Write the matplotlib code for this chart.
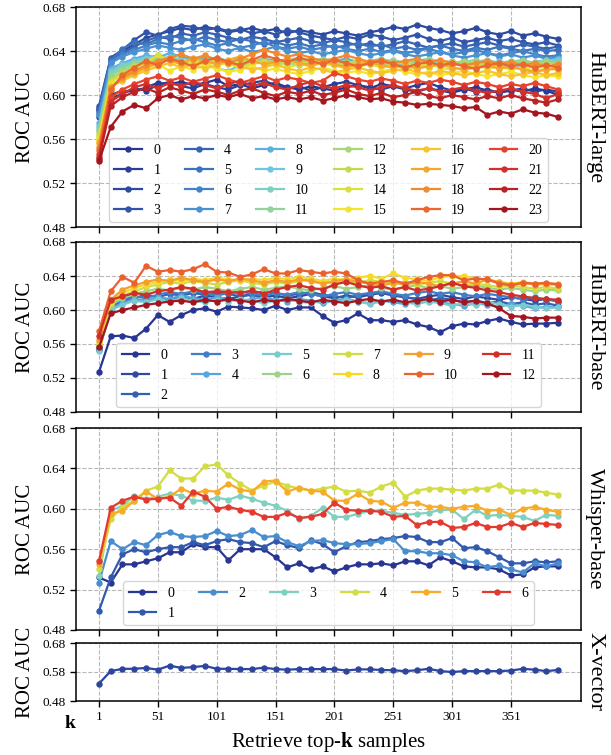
import numpy as np
import matplotlib
matplotlib.use("Agg")
import matplotlib.pyplot as plt
from matplotlib.colors import LinearSegmentedColormap

plt.rcParams['font.family'] = 'serif'
plt.rcParams['font.serif'] = ['Liberation Serif', 'DejaVu Serif']
plt.rcParams['mathtext.fontset'] = 'custom'
plt.rcParams['mathtext.rm'] = 'Liberation Serif'
plt.rcParams['mathtext.bf'] = 'Liberation Serif:bold'

# retrieve top-k, every 10 samples
k_values = np.arange(1, 392, 10)
xticks = [1, 51, 101, 151, 201, 251, 301, 351]

# HuBERT-large, layers 0..23
hubert_large = [
    [0.586, 0.600, 0.604, 0.603, 0.607, 0.611, 0.610, 0.612, 0.609, 0.611, 0.614, 0.608, 0.610, 0.606, 0.609, 0.611, 0.607, 0.605, 0.608, 0.606,
     0.604, 0.607, 0.609, 0.606, 0.610, 0.608, 0.605, 0.603, 0.606, 0.604, 0.602, 0.605, 0.607, 0.604, 0.602, 0.605, 0.603, 0.606, 0.604, 0.600],
    [0.580, 0.597, 0.601, 0.606, 0.604, 0.609, 0.612, 0.608, 0.606, 0.610, 0.607, 0.605, 0.609, 0.611, 0.613, 0.609, 0.606, 0.608, 0.604, 0.607,
     0.610, 0.612, 0.609, 0.607, 0.605, 0.608, 0.606, 0.609, 0.611, 0.607, 0.604, 0.606, 0.603, 0.605, 0.602, 0.604, 0.606, 0.603, 0.605, 0.603],
    [0.588, 0.632, 0.640, 0.646, 0.652, 0.655, 0.658, 0.661, 0.659, 0.662, 0.660, 0.657, 0.659, 0.661, 0.658, 0.660, 0.656, 0.659, 0.657, 0.655,
     0.658, 0.656, 0.654, 0.657, 0.659, 0.662, 0.660, 0.664, 0.661, 0.659, 0.656, 0.658, 0.661, 0.657, 0.655, 0.658, 0.654, 0.656, 0.653, 0.651],
    [0.590, 0.634, 0.641, 0.650, 0.657, 0.654, 0.660, 0.663, 0.662, 0.659, 0.661, 0.658, 0.660, 0.656, 0.658, 0.655, 0.659, 0.657, 0.654, 0.652,
     0.650, 0.653, 0.651, 0.655, 0.653, 0.650, 0.652, 0.655, 0.651, 0.649, 0.652, 0.648, 0.650, 0.652, 0.649, 0.651, 0.648, 0.646, 0.648, 0.645],
    [0.587, 0.633, 0.638, 0.644, 0.649, 0.653, 0.651, 0.656, 0.654, 0.657, 0.655, 0.652, 0.650, 0.653, 0.651, 0.648, 0.650, 0.652, 0.649, 0.647,
     0.650, 0.648, 0.645, 0.647, 0.644, 0.646, 0.649, 0.646, 0.643, 0.645, 0.647, 0.644, 0.646, 0.648, 0.645, 0.643, 0.646, 0.644, 0.642, 0.644],
    [0.585, 0.631, 0.642, 0.648, 0.646, 0.651, 0.654, 0.652, 0.649, 0.653, 0.650, 0.648, 0.651, 0.649, 0.646, 0.648, 0.645, 0.647, 0.644, 0.646,
     0.643, 0.645, 0.647, 0.644, 0.646, 0.642, 0.644, 0.641, 0.643, 0.645, 0.642, 0.640, 0.643, 0.641, 0.644, 0.642, 0.640, 0.642, 0.640, 0.641],
    [0.583, 0.630, 0.637, 0.641, 0.645, 0.648, 0.646, 0.649, 0.651, 0.648, 0.645, 0.647, 0.643, 0.645, 0.648, 0.644, 0.642, 0.644, 0.641, 0.643,
     0.645, 0.642, 0.640, 0.642, 0.639, 0.641, 0.638, 0.640, 0.642, 0.639, 0.637, 0.639, 0.641, 0.638, 0.636, 0.638, 0.640, 0.637, 0.635, 0.636],
    [0.582, 0.629, 0.635, 0.639, 0.642, 0.645, 0.643, 0.641, 0.644, 0.646, 0.642, 0.640, 0.643, 0.639, 0.641, 0.644, 0.640, 0.638, 0.640, 0.637,
     0.639, 0.641, 0.638, 0.636, 0.638, 0.640, 0.637, 0.635, 0.637, 0.639, 0.636, 0.634, 0.636, 0.638, 0.635, 0.637, 0.634, 0.636, 0.633, 0.634],
    [0.575, 0.624, 0.629, 0.633, 0.636, 0.634, 0.638, 0.635, 0.632, 0.634, 0.631, 0.629, 0.625, 0.630, 0.633, 0.631, 0.629, 0.632, 0.630, 0.628,
     0.631, 0.633, 0.630, 0.628, 0.630, 0.627, 0.629, 0.631, 0.628, 0.626, 0.628, 0.630, 0.627, 0.629, 0.626, 0.628, 0.630, 0.627, 0.629, 0.632],
    [0.572, 0.622, 0.628, 0.631, 0.634, 0.636, 0.633, 0.630, 0.633, 0.628, 0.624, 0.622, 0.627, 0.631, 0.629, 0.632, 0.630, 0.627, 0.629, 0.631,
     0.628, 0.626, 0.629, 0.631, 0.628, 0.630, 0.627, 0.625, 0.628, 0.630, 0.627, 0.629, 0.626, 0.628, 0.631, 0.628, 0.626, 0.629, 0.631, 0.633],
    [0.570, 0.620, 0.626, 0.630, 0.633, 0.631, 0.635, 0.632, 0.629, 0.632, 0.634, 0.631, 0.628, 0.630, 0.632, 0.629, 0.631, 0.634, 0.631, 0.629,
     0.632, 0.630, 0.628, 0.631, 0.633, 0.630, 0.628, 0.630, 0.632, 0.629, 0.631, 0.628, 0.630, 0.632, 0.629, 0.631, 0.628, 0.630, 0.632, 0.630],
    [0.568, 0.618, 0.624, 0.629, 0.631, 0.634, 0.632, 0.630, 0.633, 0.631, 0.628, 0.630, 0.633, 0.631, 0.629, 0.632, 0.630, 0.628, 0.631, 0.633,
     0.631, 0.629, 0.631, 0.628, 0.630, 0.632, 0.629, 0.631, 0.633, 0.630, 0.628, 0.630, 0.632, 0.629, 0.627, 0.630, 0.632, 0.629, 0.631, 0.629],
    [0.566, 0.615, 0.622, 0.627, 0.630, 0.633, 0.631, 0.628, 0.631, 0.629, 0.632, 0.630, 0.627, 0.629, 0.632, 0.630, 0.628, 0.630, 0.633, 0.631,
     0.628, 0.630, 0.627, 0.629, 0.631, 0.628, 0.630, 0.632, 0.629, 0.627, 0.629, 0.631, 0.628, 0.630, 0.627, 0.629, 0.631, 0.628, 0.630, 0.628],
    [0.564, 0.613, 0.620, 0.626, 0.629, 0.631, 0.634, 0.630, 0.632, 0.629, 0.631, 0.628, 0.630, 0.632, 0.629, 0.627, 0.630, 0.628, 0.631, 0.629,
     0.627, 0.629, 0.631, 0.628, 0.626, 0.628, 0.630, 0.627, 0.625, 0.628, 0.630, 0.627, 0.629, 0.626, 0.628, 0.630, 0.627, 0.625, 0.627, 0.626],
    [0.562, 0.612, 0.618, 0.624, 0.630, 0.636, 0.632, 0.629, 0.631, 0.627, 0.630, 0.628, 0.625, 0.628, 0.630, 0.627, 0.625, 0.628, 0.626, 0.629,
     0.627, 0.624, 0.626, 0.628, 0.625, 0.627, 0.624, 0.626, 0.628, 0.625, 0.623, 0.625, 0.627, 0.624, 0.626, 0.623, 0.625, 0.622, 0.624, 0.623],
    [0.560, 0.610, 0.614, 0.619, 0.624, 0.628, 0.622, 0.626, 0.623, 0.627, 0.624, 0.621, 0.623, 0.626, 0.622, 0.624, 0.621, 0.619, 0.622, 0.625,
     0.622, 0.620, 0.622, 0.619, 0.621, 0.624, 0.621, 0.619, 0.621, 0.618, 0.620, 0.622, 0.619, 0.617, 0.619, 0.621, 0.618, 0.616, 0.618, 0.617],
    [0.558, 0.608, 0.613, 0.618, 0.622, 0.626, 0.629, 0.625, 0.628, 0.624, 0.627, 0.630, 0.626, 0.623, 0.625, 0.628, 0.624, 0.622, 0.625, 0.623,
     0.620, 0.623, 0.625, 0.622, 0.620, 0.622, 0.624, 0.621, 0.619, 0.622, 0.620, 0.618, 0.620, 0.622, 0.619, 0.617, 0.619, 0.621, 0.618, 0.620],
    [0.556, 0.607, 0.615, 0.620, 0.625, 0.629, 0.632, 0.628, 0.634, 0.631, 0.628, 0.632, 0.635, 0.631, 0.628, 0.630, 0.633, 0.629, 0.627, 0.630,
     0.628, 0.625, 0.628, 0.630, 0.627, 0.625, 0.627, 0.624, 0.626, 0.628, 0.625, 0.623, 0.625, 0.627, 0.624, 0.626, 0.623, 0.621, 0.623, 0.624],
    [0.553, 0.606, 0.616, 0.622, 0.627, 0.631, 0.634, 0.637, 0.633, 0.636, 0.632, 0.629, 0.633, 0.637, 0.641, 0.638, 0.635, 0.637, 0.634, 0.631,
     0.633, 0.636, 0.633, 0.630, 0.632, 0.629, 0.631, 0.633, 0.630, 0.632, 0.629, 0.627, 0.629, 0.631, 0.628, 0.630, 0.627, 0.629, 0.626, 0.628],
    [0.550, 0.605, 0.618, 0.625, 0.631, 0.627, 0.633, 0.630, 0.626, 0.631, 0.634, 0.630, 0.627, 0.632, 0.636, 0.633, 0.630, 0.634, 0.631, 0.628,
     0.632, 0.629, 0.626, 0.629, 0.631, 0.628, 0.625, 0.628, 0.630, 0.627, 0.629, 0.626, 0.624, 0.627, 0.629, 0.626, 0.628, 0.625, 0.627, 0.625],
    [0.546, 0.598, 0.605, 0.610, 0.614, 0.617, 0.613, 0.616, 0.612, 0.615, 0.618, 0.614, 0.611, 0.614, 0.617, 0.613, 0.616, 0.614, 0.611, 0.613,
     0.620, 0.617, 0.614, 0.612, 0.615, 0.613, 0.610, 0.613, 0.611, 0.614, 0.612, 0.609, 0.612, 0.610, 0.607, 0.610, 0.608, 0.611, 0.608, 0.605],
    [0.544, 0.594, 0.601, 0.607, 0.610, 0.606, 0.611, 0.608, 0.612, 0.609, 0.606, 0.610, 0.613, 0.608, 0.611, 0.607, 0.605, 0.609, 0.612, 0.608,
     0.606, 0.609, 0.607, 0.604, 0.607, 0.609, 0.606, 0.604, 0.606, 0.603, 0.605, 0.607, 0.604, 0.602, 0.604, 0.606, 0.603, 0.601, 0.597, 0.601],
    [0.542, 0.590, 0.598, 0.603, 0.606, 0.602, 0.607, 0.604, 0.601, 0.605, 0.603, 0.600, 0.604, 0.606, 0.602, 0.599, 0.603, 0.601, 0.604, 0.600,
     0.602, 0.605, 0.601, 0.599, 0.602, 0.598, 0.600, 0.603, 0.599, 0.597, 0.600, 0.598, 0.596, 0.599, 0.597, 0.600, 0.597, 0.595, 0.593, 0.596],
    [0.540, 0.571, 0.585, 0.591, 0.588, 0.597, 0.600, 0.596, 0.599, 0.597, 0.600, 0.598, 0.601, 0.597, 0.599, 0.596, 0.598, 0.596, 0.598, 0.595,
     0.597, 0.600, 0.598, 0.596, 0.597, 0.594, 0.593, 0.591, 0.592, 0.591, 0.590, 0.588, 0.589, 0.582, 0.585, 0.583, 0.587, 0.584, 0.583, 0.580],
]

# HuBERT-base, layers 0..12
hubert_base = [
    [0.527, 0.569, 0.570, 0.567, 0.578, 0.594, 0.586, 0.594, 0.600, 0.602, 0.598, 0.604, 0.603, 0.602, 0.600, 0.605, 0.600, 0.603, 0.603, 0.593,
     0.585, 0.588, 0.596, 0.588, 0.588, 0.586, 0.588, 0.583, 0.580, 0.574, 0.581, 0.584, 0.583, 0.587, 0.590, 0.586, 0.583, 0.584, 0.584, 0.585],
    [0.553, 0.600, 0.608, 0.612, 0.610, 0.614, 0.612, 0.616, 0.613, 0.617, 0.615, 0.613, 0.616, 0.618, 0.615, 0.617, 0.614, 0.616, 0.619, 0.616,
     0.614, 0.617, 0.615, 0.618, 0.620, 0.617, 0.615, 0.613, 0.616, 0.618, 0.615, 0.613, 0.616, 0.614, 0.612, 0.615, 0.613, 0.611, 0.613, 0.610],
    [0.555, 0.603, 0.610, 0.614, 0.618, 0.615, 0.619, 0.617, 0.620, 0.618, 0.621, 0.619, 0.616, 0.619, 0.622, 0.620, 0.617, 0.619, 0.621, 0.618,
     0.616, 0.614, 0.617, 0.619, 0.621, 0.618, 0.615, 0.613, 0.611, 0.614, 0.612, 0.609, 0.611, 0.608, 0.610, 0.607, 0.609, 0.606, 0.608, 0.605],
    [0.556, 0.605, 0.612, 0.616, 0.614, 0.618, 0.621, 0.619, 0.622, 0.620, 0.617, 0.620, 0.622, 0.619, 0.617, 0.620, 0.618, 0.621, 0.619, 0.616,
     0.619, 0.621, 0.618, 0.620, 0.622, 0.619, 0.617, 0.620, 0.622, 0.619, 0.621, 0.618, 0.616, 0.619, 0.617, 0.615, 0.613, 0.615, 0.612, 0.611],
    [0.555, 0.602, 0.608, 0.613, 0.611, 0.615, 0.613, 0.617, 0.614, 0.612, 0.615, 0.613, 0.610, 0.613, 0.615, 0.612, 0.610, 0.613, 0.611, 0.608,
     0.611, 0.613, 0.610, 0.608, 0.611, 0.609, 0.607, 0.610, 0.612, 0.609, 0.607, 0.605, 0.608, 0.606, 0.604, 0.607, 0.605, 0.602, 0.604, 0.603],
    [0.552, 0.600, 0.606, 0.611, 0.609, 0.613, 0.610, 0.614, 0.611, 0.609, 0.612, 0.610, 0.613, 0.611, 0.608, 0.611, 0.613, 0.610, 0.608, 0.611,
     0.609, 0.612, 0.610, 0.607, 0.610, 0.612, 0.609, 0.607, 0.610, 0.608, 0.605, 0.608, 0.606, 0.609, 0.607, 0.604, 0.606, 0.604, 0.602, 0.603],
    [0.558, 0.606, 0.614, 0.619, 0.622, 0.625, 0.623, 0.626, 0.624, 0.627, 0.625, 0.622, 0.625, 0.627, 0.624, 0.626, 0.628, 0.625, 0.623, 0.626,
     0.628, 0.625, 0.627, 0.629, 0.626, 0.624, 0.627, 0.629, 0.626, 0.628, 0.625, 0.627, 0.629, 0.626, 0.624, 0.626, 0.624, 0.622, 0.624, 0.623],
    [0.560, 0.608, 0.617, 0.622, 0.627, 0.630, 0.633, 0.631, 0.634, 0.632, 0.630, 0.633, 0.635, 0.632, 0.630, 0.633, 0.631, 0.634, 0.636, 0.633,
     0.631, 0.634, 0.632, 0.635, 0.633, 0.631, 0.633, 0.630, 0.632, 0.634, 0.631, 0.629, 0.631, 0.629, 0.627, 0.629, 0.627, 0.625, 0.627, 0.625],
    [0.562, 0.610, 0.620, 0.626, 0.630, 0.633, 0.636, 0.634, 0.637, 0.635, 0.638, 0.636, 0.634, 0.637, 0.635, 0.638, 0.636, 0.639, 0.637, 0.634,
     0.637, 0.635, 0.638, 0.640, 0.637, 0.643, 0.638, 0.636, 0.634, 0.639, 0.640, 0.640, 0.637, 0.635, 0.633, 0.631, 0.633, 0.631, 0.630, 0.629],
    [0.565, 0.612, 0.624, 0.629, 0.633, 0.636, 0.634, 0.638, 0.635, 0.633, 0.636, 0.634, 0.637, 0.635, 0.632, 0.635, 0.633, 0.636, 0.634, 0.631,
     0.634, 0.636, 0.633, 0.631, 0.629, 0.632, 0.630, 0.633, 0.631, 0.628, 0.631, 0.634, 0.631, 0.636, 0.633, 0.630, 0.632, 0.630, 0.631, 0.631],
    [0.575, 0.622, 0.639, 0.632, 0.652, 0.645, 0.647, 0.645, 0.648, 0.654, 0.645, 0.644, 0.639, 0.642, 0.648, 0.643, 0.643, 0.647, 0.645, 0.643,
     0.645, 0.643, 0.635, 0.631, 0.633, 0.635, 0.631, 0.635, 0.639, 0.641, 0.641, 0.635, 0.637, 0.636, 0.631, 0.629, 0.632, 0.631, 0.632, 0.630],
    [0.570, 0.612, 0.616, 0.620, 0.618, 0.622, 0.624, 0.627, 0.625, 0.621, 0.622, 0.621, 0.620, 0.623, 0.619, 0.624, 0.627, 0.629, 0.626, 0.624,
     0.630, 0.633, 0.629, 0.626, 0.628, 0.624, 0.627, 0.623, 0.625, 0.628, 0.632, 0.628, 0.626, 0.623, 0.621, 0.618, 0.616, 0.614, 0.613, 0.612],
    [0.556, 0.596, 0.600, 0.603, 0.606, 0.608, 0.610, 0.611, 0.609, 0.612, 0.610, 0.613, 0.611, 0.609, 0.612, 0.610, 0.613, 0.611, 0.609, 0.612,
     0.610, 0.608, 0.611, 0.613, 0.610, 0.612, 0.609, 0.611, 0.613, 0.610, 0.612, 0.609, 0.611, 0.608, 0.602, 0.593, 0.592, 0.590, 0.591, 0.591],
]

# Whisper-base, layers 0..6
whisper_base = [
    [0.532, 0.527, 0.545, 0.545, 0.548, 0.551, 0.557, 0.557, 0.565, 0.562, 0.562, 0.549, 0.560, 0.560, 0.560, 0.552, 0.542, 0.546, 0.540, 0.543,
     0.538, 0.542, 0.545, 0.545, 0.546, 0.544, 0.548, 0.548, 0.544, 0.552, 0.548, 0.543, 0.542, 0.542, 0.540, 0.534, 0.535, 0.542, 0.543, 0.543],
    [0.499, 0.532, 0.555, 0.560, 0.557, 0.560, 0.562, 0.562, 0.567, 0.564, 0.568, 0.570, 0.567, 0.566, 0.562, 0.568, 0.564, 0.561, 0.569, 0.565,
     0.557, 0.563, 0.567, 0.568, 0.570, 0.571, 0.573, 0.572, 0.567, 0.567, 0.571, 0.561, 0.562, 0.558, 0.552, 0.546, 0.546, 0.548, 0.547, 0.548],
    [0.527, 0.568, 0.560, 0.567, 0.564, 0.574, 0.577, 0.573, 0.572, 0.573, 0.578, 0.573, 0.574, 0.579, 0.572, 0.573, 0.567, 0.563, 0.568, 0.569,
     0.566, 0.565, 0.565, 0.566, 0.568, 0.570, 0.558, 0.558, 0.556, 0.556, 0.554, 0.548, 0.547, 0.542, 0.544, 0.540, 0.537, 0.546, 0.543, 0.546],
    [0.533, 0.598, 0.603, 0.613, 0.610, 0.612, 0.615, 0.613, 0.608, 0.608, 0.611, 0.609, 0.613, 0.610, 0.606, 0.603, 0.598, 0.590, 0.593, 0.601,
     0.592, 0.592, 0.595, 0.598, 0.598, 0.596, 0.594, 0.595, 0.596, 0.599, 0.599, 0.590, 0.599, 0.593, 0.594, 0.593, 0.592, 0.588, 0.594, 0.593],
    [0.540, 0.590, 0.602, 0.608, 0.618, 0.622, 0.638, 0.630, 0.630, 0.642, 0.644, 0.633, 0.625, 0.618, 0.623, 0.627, 0.623, 0.620, 0.618, 0.620,
     0.622, 0.617, 0.618, 0.616, 0.622, 0.626, 0.612, 0.618, 0.620, 0.620, 0.619, 0.618, 0.620, 0.620, 0.624, 0.618, 0.618, 0.618, 0.616, 0.614],
    [0.545, 0.595, 0.598, 0.608, 0.617, 0.610, 0.612, 0.620, 0.615, 0.618, 0.617, 0.625, 0.619, 0.617, 0.627, 0.628, 0.617, 0.621, 0.618, 0.617,
     0.608, 0.608, 0.615, 0.608, 0.607, 0.601, 0.606, 0.606, 0.602, 0.602, 0.600, 0.602, 0.603, 0.598, 0.599, 0.594, 0.600, 0.602, 0.599, 0.597],
    [0.548, 0.601, 0.608, 0.612, 0.609, 0.610, 0.611, 0.603, 0.617, 0.612, 0.600, 0.602, 0.599, 0.597, 0.592, 0.592, 0.596, 0.591, 0.592, 0.595,
     0.606, 0.599, 0.598, 0.598, 0.597, 0.592, 0.593, 0.584, 0.587, 0.587, 0.581, 0.582, 0.586, 0.582, 0.582, 0.586, 0.582, 0.586, 0.585, 0.584],
]

# X-vector, single series
x_vector = [0.540, 0.583, 0.591, 0.591, 0.594, 0.588, 0.602, 0.594, 0.597, 0.601, 0.591, 0.591, 0.590, 0.590, 0.595, 0.590, 0.588, 0.590, 0.590, 0.590,
            0.590, 0.585, 0.589, 0.589, 0.587, 0.586, 0.583, 0.586, 0.591, 0.583, 0.580, 0.583, 0.583, 0.583, 0.583, 0.585, 0.591, 0.588, 0.583, 0.587]

cmap = LinearSegmentedColormap.from_list("layers", [
    (0.00, "#283593"), (0.13, "#3054a8"), (0.30, "#4a8fd0"), (0.38, "#6cc4e6"),
    (0.44, "#80d0c0"), (0.50, "#9cd38a"), (0.57, "#c8da48"), (0.65, "#f5e52c"),
    (0.72, "#f7b52a"), (0.80, "#f07f2c"), (0.88, "#e53a2e"), (1.00, "#a3151f"),
])

W, H = 611, 755
fig = plt.figure(figsize=(W / 100, H / 100), dpi=100)
left, right = 76, 581


def make_ax(top, bottom):
    return fig.add_axes([left / W, 1 - bottom / H, (right - left) / W, (bottom - top) / H])


panels = [
    (make_ax(7, 227), hubert_large, np.linspace(0, 1, 24), "HuBERT-large"),
    (make_ax(242, 412), hubert_base, np.linspace(0, 1, 13), "HuBERT-base"),
    (make_ax(428, 630), whisper_base, np.linspace(0, 0.88, 7), "Whisper-base"),
    (make_ax(643, 701), [x_vector], [0.07], "X-vector"),
]

for j, (ax, series, cpos, name) in enumerate(panels):
    for i, vals in enumerate(series):
        ax.plot(k_values, vals, '-o', color=cmap(cpos[i]), lw=1.6, ms=3.6, label=str(i))
    ax.set_ylim(0.48, 0.68)
    ax.set_xticks(xticks)
    if j < 3:
        ax.set_yticks([0.48, 0.52, 0.56, 0.60, 0.64, 0.68])
        ax.tick_params(labelbottom=False)
    else:
        ax.set_yticks([0.48, 0.58, 0.68])
    ax.set_yticklabels([f"{t:.2f}" for t in ax.get_yticks()])
    ax.tick_params(labelsize=9.5, length=4, width=1)
    ax.grid(True, ls='--', color='#b8b8b8', lw=0.8)
    ax.set_axisbelow(True)
    for sp in ax.spines.values():
        sp.set_linewidth(1.1)
    ax.text(1.008, 0.5, name, transform=ax.transAxes, rotation=270,
            ha='left', va='center', fontsize=16)
    bb = ax.get_position()
    fig.text(25 / W, bb.y0 + bb.height / 2, "ROC AUC", rotation=90,
             ha='center', va='center', fontsize=15)
    if j < 3:
        ax.legend(loc='lower center', ncol=6, fontsize=10, columnspacing=1.8,
                  borderaxespad=0.35, handlelength=2.0)

fig.text(70 / W, 1 - 724 / H, "k", fontsize=14, fontweight='bold', ha='center', va='center')
fig.text((left + right) / 2 / W, 1 - 742 / H, r"Retrieve top-$\mathbf{k}$ samples",
         fontsize=15, ha='center', va='center')

fig.savefig("out.png", dpi=100)
